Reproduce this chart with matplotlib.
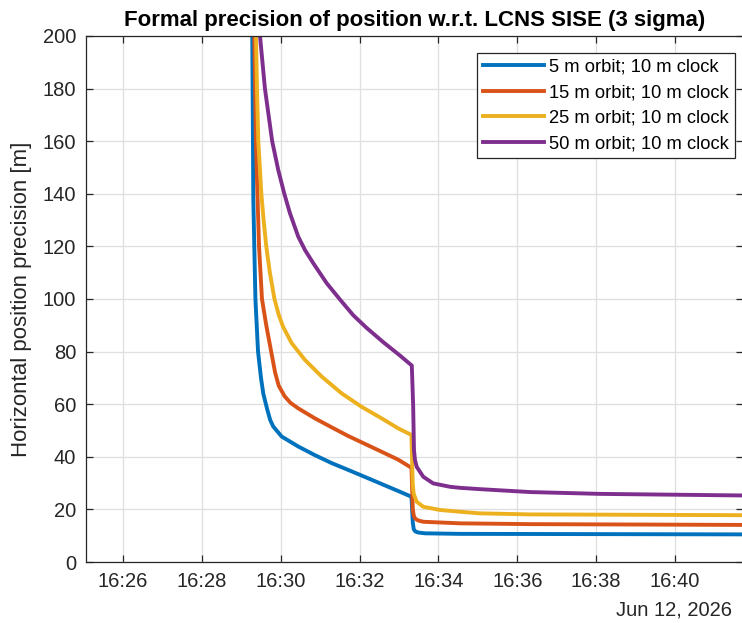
import numpy as np
import pandas as pd
import matplotlib
matplotlib.use("Agg")
import matplotlib.pyplot as plt
import matplotlib.dates as mdates

plt.rcParams['font.family'] = ['Liberation Sans', 'DejaVu Sans']

day = "2026-06-12 "

# 5 m orbit; 10 m clock
t_blue = ["16:29:16.7", "16:29:17.5", "16:29:18.3", "16:29:19.8", "16:29:21.5", "16:29:25.5",
          "16:29:30", "16:29:33.5", "16:29:39.5", "16:29:44", "16:29:48.7", "16:30:01.5",
          "16:30:26.8", "16:30:52.2", "16:31:17.6", "16:31:42.8", "16:32:01", "16:32:36",
          "16:33:01.5", "16:33:19", "16:33:21", "16:33:22.5", "16:33:25", "16:33:29.4",
          "16:33:40", "16:34:33", "16:38:06", "16:41:43"]
v_blue = [200, 170, 138, 120, 100, 80,
          70, 64, 58, 54, 51.5, 47.7,
          43.9, 40.6, 37.6, 35, 33.1, 29.4,
          26.7, 24.8, 15, 12.4, 11.6, 11.2,
          10.9, 10.7, 10.6, 10.5]

# 15 m orbit; 10 m clock
t_red = ["16:29:19.8", "16:29:21", "16:29:22.3", "16:29:23.5", "16:29:27", "16:29:31.5",
         "16:29:38", "16:29:45.5", "16:29:51.5", "16:29:57", "16:30:06", "16:30:15",
         "16:30:26.8", "16:30:52.2", "16:31:17.6", "16:31:42.8", "16:32:03.2", "16:32:33.7",
         "16:32:58.9", "16:33:19", "16:33:21", "16:33:22.5", "16:33:24.3", "16:33:29",
         "16:33:37", "16:34:33", "16:36:19", "16:38:06", "16:41:43"]
v_red = [200, 180, 160, 149, 120, 100,
         90, 80, 72, 67, 63, 60.5,
         58.4, 54.6, 51.2, 47.9, 45.5, 41.9,
         38.9, 35.8, 20, 17.6, 16.6, 15.8,
         15.3, 14.7, 14.4, 14.3, 14.1]

# 25 m orbit; 10 m clock
t_yel = ["16:29:22.4", "16:29:23.9", "16:29:25.9", "16:29:28.5", "16:29:30.5", "16:29:34",
         "16:29:38", "16:29:43.5", "16:29:50.5", "16:29:57", "16:30:03.5", "16:30:16.7",
         "16:30:37", "16:31:02.4", "16:31:32.8", "16:32:03.2", "16:32:33.7", "16:32:58.9",
         "16:33:19", "16:33:20.8", "16:33:22.3", "16:33:26.9", "16:33:37", "16:34:02",
         "16:34:33", "16:35:03", "16:36:19", "16:38:06", "16:41:43"]
v_yel = [200, 180, 160, 149, 140, 130,
         120, 110, 100, 94, 89.5, 83.2,
         76.8, 70.5, 64.1, 59, 54.6, 50.8,
         48.3, 30, 26, 22.9, 21, 19.8,
         19.1, 18.5, 18.1, 18.0, 17.8]

# 50 m orbit; 10 m clock
t_pur = ["16:29:28.5", "16:29:36", "16:29:47", "16:29:56.3", "16:30:05.5", "16:30:14.1",
         "16:30:26.7", "16:30:37", "16:30:49.6", "16:31:10", "16:31:30.2", "16:31:50.5",
         "16:32:10.8", "16:32:36", "16:33:01.5", "16:33:19.5", "16:33:21.5", "16:33:22.8",
         "16:33:24.3", "16:33:26.9", "16:33:37", "16:33:52", "16:34:17.6", "16:34:33",
         "16:35:03", "16:36:19", "16:38:06", "16:41:43"]
v_pur = [200, 180, 160, 149, 140, 132.6,
         123.7, 118.6, 113.6, 106, 99.8, 93.8,
         89, 83.6, 78.5, 74.7, 60, 42.6,
         38.8, 36.2, 32.4, 29.9, 28.6, 28.2,
         27.7, 26.6, 25.9, 25.3]

labels = ["5 m orbit; 10 m clock", "15 m orbit; 10 m clock",
          "25 m orbit; 10 m clock", "50 m orbit; 10 m clock"]
colors = ["#0072BD", "#D95319", "#EDB120", "#7E2F8E"]

series = [(t_blue, v_blue), (t_red, v_red), (t_yel, v_yel), (t_pur, v_pur)]

fig = plt.figure(figsize=(7.42, 6.23), dpi=100)
ax = fig.add_axes([86 / 742, 1 - 562 / 623, 657 / 742, 526 / 623])

for (t, v), lab, c in zip(series, labels, colors):
    tt = pd.to_datetime([day + s for s in t], format="mixed")
    ax.plot(tt, v, color=c, lw=2.8, label=lab, solid_joinstyle='round')

ax.set_xlim(pd.Timestamp(day + "16:25:03.7"), pd.Timestamp(day + "16:41:43.5"))
ax.set_ylim(0, 200)
ax.set_yticks(np.arange(0, 201, 20))
ticks = pd.date_range(day + "16:26", day + "16:40", freq="2min")
ax.set_xticks(ticks)
ax.xaxis.set_major_formatter(mdates.DateFormatter("%H:%M"))

ax.grid(True, color="#dfdfdf", lw=0.9)
ax.set_axisbelow(True)
for s in ax.spines.values():
    s.set_color("#262626")
    s.set_linewidth(0.9)
ax.tick_params(direction="in", length=5, width=0.9, colors="#262626",
               labelsize=14.5, top=True, right=True, pad=7)

ax.set_ylabel("Horizontal position precision [m]", fontsize=16, color="#262626", labelpad=8)
ax.set_title("Formal precision of position w.r.t. LCNS SISE (3 sigma)",
             fontsize=16, fontweight="bold", color="black", pad=7)

leg = ax.legend(loc="upper right", bbox_to_anchor=(649 / 657, (562 - 53) / 526),
                borderaxespad=0, fontsize=13.2, fancybox=False, framealpha=1,
                edgecolor="#262626", handlelength=3.3, handletextpad=0.3,
                labelspacing=0.46, borderpad=0.32)
leg.get_frame().set_linewidth(0.9)

fig.text(732 / 742, 1 - 610 / 623, "Jun 12, 2026", ha="right", va="center",
         fontsize=14.5, color="#262626")

fig.savefig("out.png", dpi=100)
